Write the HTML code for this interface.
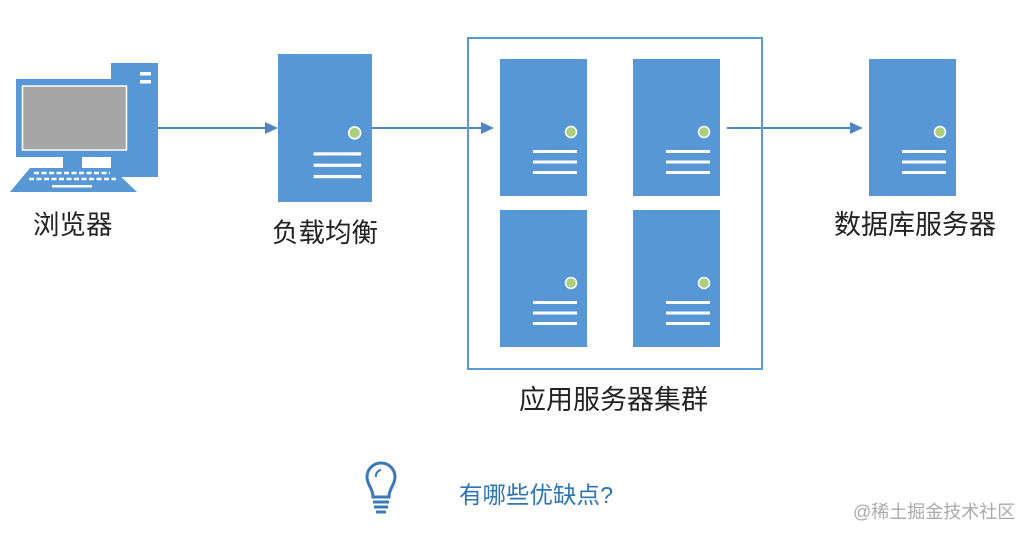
<!DOCTYPE html>
<html><head><meta charset="utf-8"><style>
body{margin:0;background:#fff}
svg{display:block}
text{font-family:"Liberation Sans","Noto Sans CJK SC",sans-serif}
</style></head><body>
<svg width="1032" height="539" viewBox="0 0 1032 539" xmlns="http://www.w3.org/2000/svg">
<defs>
<g id="srv">
<rect x="0" y="0" width="87" height="137" fill="#5797d6"/>
<circle cx="71" cy="73" r="5.5" fill="#a9cf7f" stroke="#fff" stroke-width="1.5"/>
<rect x="33" y="91" width="44" height="3" fill="#fff"/>
<rect x="33" y="101.5" width="44" height="3" fill="#fff"/>
<rect x="33" y="112" width="44" height="3" fill="#fff"/>
</g>
</defs>
<!-- computer -->
<rect x="111" y="63" width="47" height="114" fill="#5797d6"/>
<rect x="140" y="72" width="11" height="3.5" fill="#fff"/>
<rect x="140" y="80" width="11" height="3.5" fill="#fff"/>
<rect x="16" y="79" width="116" height="78" fill="#5797d6"/>
<rect x="22.5" y="86" width="104" height="64" fill="#a6a6a6" stroke="#fff" stroke-width="1.5"/>
<rect x="63" y="157" width="19" height="11" fill="#5797d6"/>
<polygon points="30,168 112,168 137,192 10,192" fill="#5797d6"/>
<g stroke="#fff" stroke-width="2.5" stroke-dasharray="5 2.5">
<line x1="34" y1="173" x2="110" y2="173"/>
<line x1="29" y1="179" x2="116" y2="179"/>
</g>
<rect x="52" y="185" width="40" height="2.5" fill="#fff"/>
<!-- arrows -->
<g stroke="#4f86c6" stroke-width="2">
<line x1="158" y1="128" x2="266" y2="128"/>
<line x1="372" y1="128" x2="482" y2="128"/>
<line x1="727" y1="128" x2="851" y2="128"/>
</g>
<g fill="#4f86c6">
<polygon points="265,122 278,128 265,134"/>
<polygon points="481,122 494,128 481,134"/>
<polygon points="850,122 863,128 850,134"/>
</g>
<!-- LB -->
<g transform="translate(278,54) scale(1.08,1.08)"><use href="#srv"/></g>
<!-- cluster -->
<rect x="468" y="38" width="294" height="331" fill="none" stroke="#5b9bd5" stroke-width="2"/>
<use href="#srv" transform="translate(500,59)"/>
<use href="#srv" transform="translate(633,59)"/>
<use href="#srv" transform="translate(500,210)"/>
<use href="#srv" transform="translate(633,210)"/>
<use href="#srv" transform="translate(869,59)"/>
<!-- labels -->
<g fill="#222">
<text x="33" y="234" font-size="26.5">浏览器</text>
<text x="272" y="242" font-size="26.5">负载均衡</text>
<text x="834" y="234" font-size="27">数据库服务器</text>
<text x="519" y="409" font-size="27">应用服务器集群</text>
</g>
<!-- bulb -->
<g fill="none" stroke="#3a78b8" stroke-width="3">
<path d="M373,497 C373,488 367,485 367,477 A14,14 0 0 1 395,477 C395,485 389,488 389,497 Z"/>
<path d="M373,502 H389 M374,507 H388 M376,512 H386"/>
<path d="M376,477 A6,6 0 0 1 381,470" stroke-width="2"/>
</g>
<text x="459" y="503" font-size="23.5" fill="#2e75b6">有哪些优缺点?</text>
<text x="853" y="518" font-size="18" fill="#aaa">@稀土掘金技术社区</text>
</svg>
</body></html>
